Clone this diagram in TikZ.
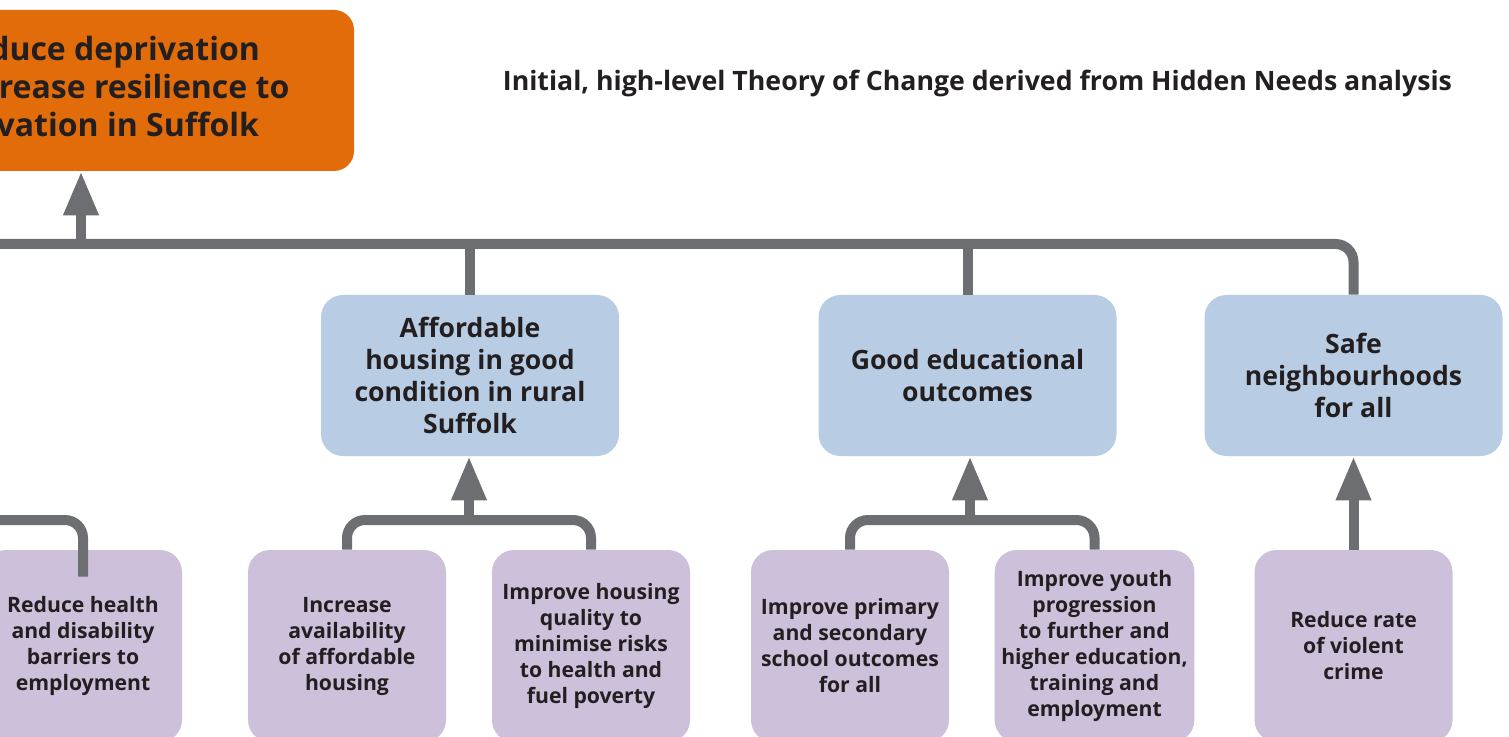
\documentclass[tikz,border=0pt]{standalone}
\usepackage{fontspec}
\setmainfont{Open Sans}
\usetikzlibrary{arrows.meta,positioning,calc}
\definecolor{goalorange}{HTML}{E36C0A}
\definecolor{outcomeblue}{HTML}{B8CCE4}
\definecolor{actionpurple}{HTML}{CCC0DA}
\definecolor{linkgrey}{HTML}{6D6E71}
\definecolor{inkgrey}{HTML}{231F20}

\begin{document}
\begin{tikzpicture}[x=0.5pt, y=-0.5pt,
  every node/.style={align=center, text=inkgrey, font=\bfseries},
  goal/.style={fill=goalorange, rounded corners=10pt, minimum width=268pt, minimum height=80.5pt, font=\fontsize{16}{19}\selectfont\bfseries},
  outcome/.style={fill=outcomeblue, rounded corners=11pt, minimum width=149pt, minimum height=80.5pt, font=\fontsize{13.3}{16}\selectfont\bfseries},
  action/.style={fill=actionpurple, rounded corners=11pt, minimum width=99pt, minimum height=96pt, font=\fontsize{10.6}{13}\selectfont\bfseries},
  link/.style={draw=linkgrey, line width=5pt, rounded corners=9pt},
  up/.style={link, -{Triangle[length=22pt,width=16.5pt]}},
  ]
  \clip (0,0) rectangle (1509,737);
  \node[goal] (goal) at (86,90.5) {To reduce deprivation\\and increase resilience to\\deprivation in Suffolk};
  \node[font=\fontsize{13.35}{16}\selectfont\bfseries] (title) at (977.5,83) {Initial, high-level Theory of Change derived from Hidden Needs analysis};

  \node[outcome] (housing) at (470,375.5) {Affordable\\housing in good\\condition in rural\\Suffolk};
  \node[outcome] (education) at (967.5,375.5) {Good educational\\outcomes};
  \node[outcome] (safety) at (1353.5,375.5) {Safe\\neighbourhoods\\for all};

  \node[action] (health) at (83,646) {Reduce health\\and disability\\barriers to\\employment};
  \node[action] (supply) at (347,646) {Increase\\availability\\of affordable\\housing};
  \node[action] (quality) at (591,646) {Improve housing\\quality to\\minimise risks\\to health and\\fuel poverty};
  \node[action] (school) at (850,646) {Improve primary\\and secondary\\school outcomes\\for all};
  \node[action] (youth) at (1094.5,646) {Improve youth\\progression\\to further and\\higher education,\\training and\\employment};
  \node[action] (crime) at (1353.5,646) {Reduce rate\\of violent\\crime};

  \coordinate (bus) at (81,244);
  \coordinate (busend) at (-20,244);
  \coordinate (j0) at (-20,520);
  \coordinate (j1) at (469,520);
  \coordinate (j2) at (970,520);

  \draw[link] (busend) -| (safety.north);
  \draw[link] (housing.north) -- (housing.north |- bus);
  \draw[link] (education.north) -- (education.north |- bus);
  \draw[up] (bus) -- (bus |- goal.south);

  \draw[link] (j0) -| ([yshift=-13.5pt]health.north);
  \draw[link] (supply.north) |- (j1) -| (quality.north);
  \draw[up] (j1) -- (j1 |- housing.south);
  \draw[link] (school.north) |- (j2) -| (youth.north);
  \draw[up] (j2) -- (j2 |- education.south);
  \draw[up] (crime.north) -- (safety.south);
\end{tikzpicture}
\end{document}
